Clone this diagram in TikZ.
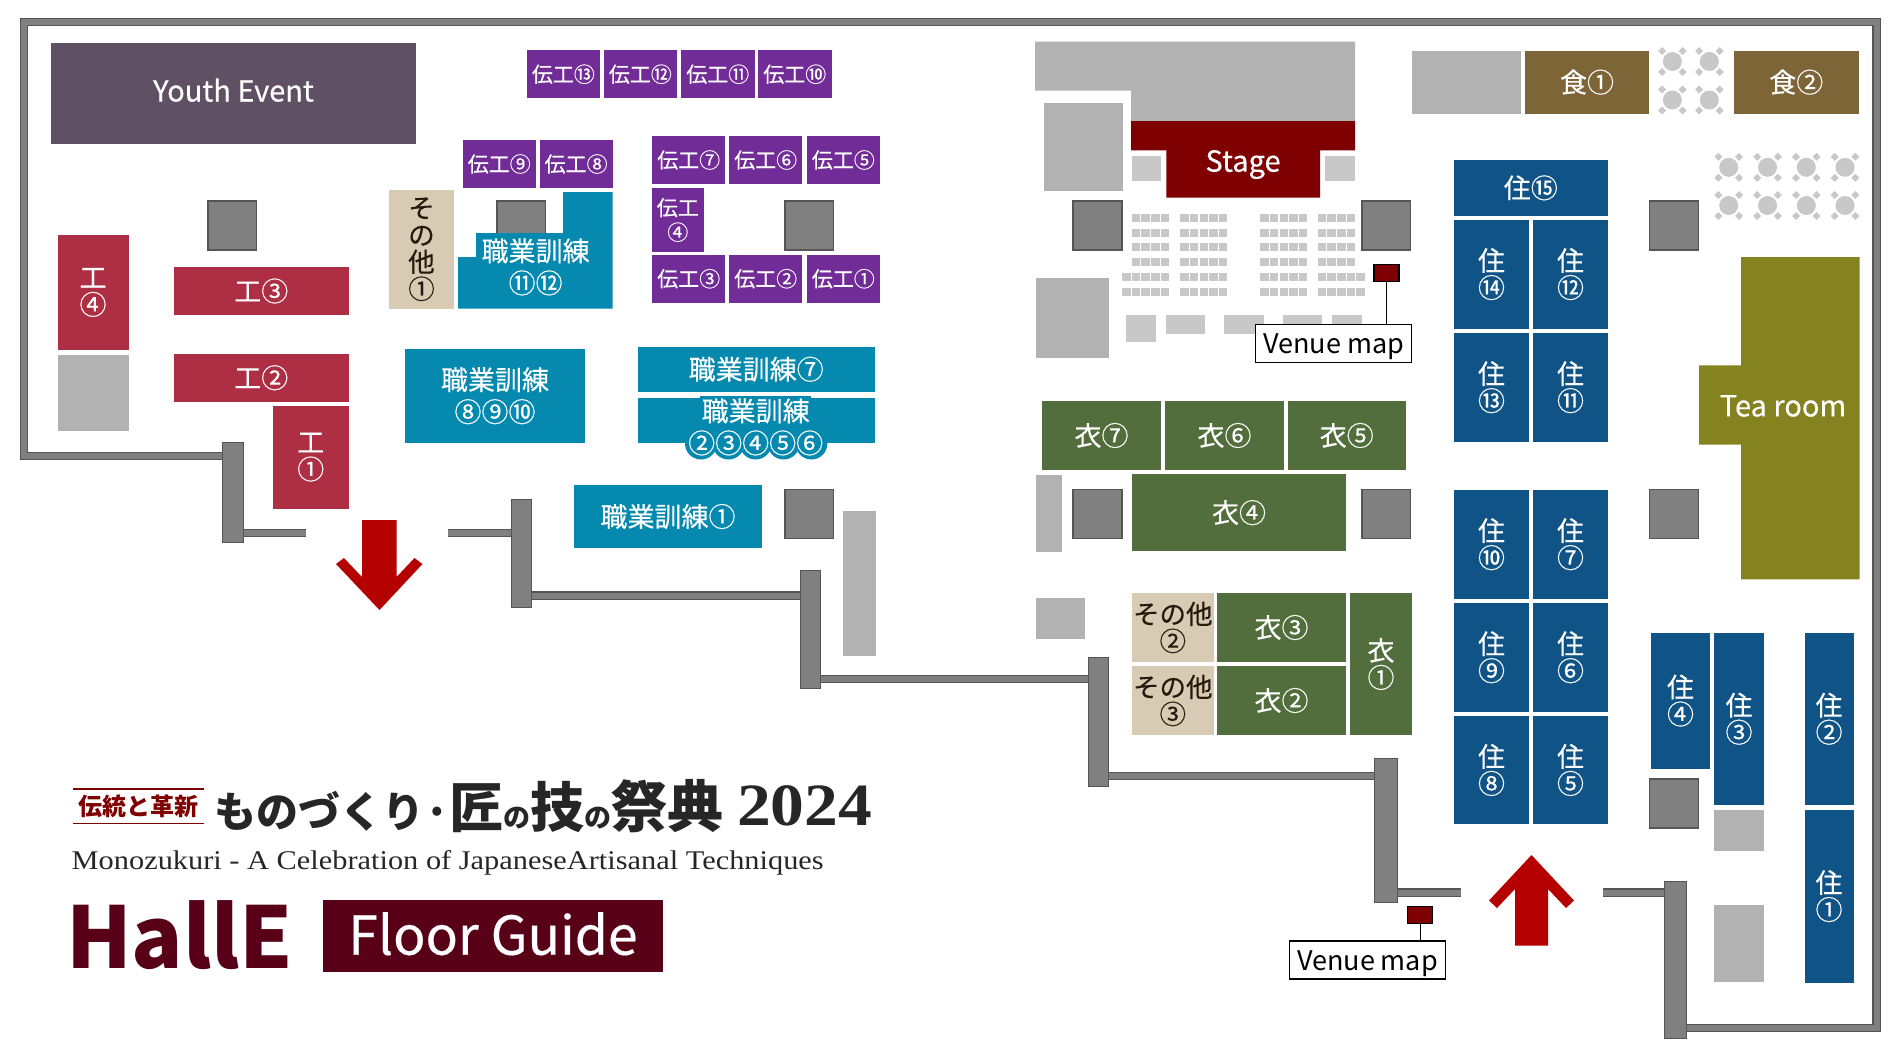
\documentclass[tikz,border=0pt]{standalone}
\usepackage{fontspec}
\setmainfont{Noto Sans CJK JP}
\newfontfamily\boothfont[FakeBold=0.35]{Noto Sans CJK JP}
\newfontfamily\latinserif[FakeStretch=1.125]{Liberation Serif}
\definecolor{wallfill}{HTML}{808080}
\definecolor{walledge}{HTML}{555555}
\definecolor{hallgray}{HTML}{B2B2B2}
\definecolor{seatgray}{HTML}{C8C8C8}
\definecolor{youthcol}{HTML}{5F5163}
\definecolor{craftcol}{HTML}{722C98}
\definecolor{kohcol}{HTML}{AE2E44}
\definecolor{traincol}{HTML}{0689AF}
\definecolor{livecol}{HTML}{105387}
\definecolor{clothcol}{HTML}{526E3C}
\definecolor{foodcol}{HTML}{7D6537}
\definecolor{teacol}{HTML}{858320}
\definecolor{othercol}{HTML}{D8CBB3}
\definecolor{stagecol}{HTML}{7F0000}
\definecolor{arrowcol}{HTML}{B50000}
\definecolor{hallcol}{HTML}{570017}
\tikzset{
	wallline/.style={draw=wallfill, line width=6pt, preaction={draw=walledge, line width=8.5pt}},
	wallpost/.style={fill=wallfill, draw=walledge, line width=0.8pt},
	pillar/.style={fill=wallfill, draw=walledge, line width=1.5pt},
	booth/.style={inner sep=0pt, align=center, text=white, font=\boothfont\fontsize{27}{27}\selectfont},
	craft/.style={booth, fill=craftcol, font=\boothfont\fontsize{21}{24.5}\selectfont},
	koh/.style={booth, fill=kohcol},
	train/.style={booth, fill=traincol, font=\boothfont\fontsize{27}{32}\selectfont},
	living/.style={booth, fill=livecol},
	cloth/.style={booth, fill=clothcol},
	food/.style={booth, fill=foodcol},
	other/.style={booth, fill=othercol, text=black!80!brown, font=\boothfont\fontsize{26.5}{27}\selectfont},
	youth/.style={booth, fill=youthcol, font=\boothfont\fontsize{29}{29}\selectfont},
	mapmark/.style={fill=stagecol, draw=black, line width=1.2pt, inner sep=0pt, minimum width=25pt, minimum height=17pt},
	maplabel/.style={fill=white, draw=black, line width=1.5pt, inner sep=0pt, minimum width=156pt, minimum height=38pt, font=\fontsize{27}{27}\selectfont}
}
% style, name, left, top, right, bottom, text
\newcommand{\boothat}[7]{\node[#1, minimum width={(#5-#3)*1pt}, minimum height={(#6-#4)*1pt}] (#2) at ({(#3+#5)/2},{(#4+#6)/2}) {#7};}
\begin{document}
\begin{tikzpicture}[x=1pt,y=-1pt]
\useasboundingbox (0,0) rectangle (1900,1057);

% walls
\draw[wallline] (232,456) -- (24,456) -- (24,22) -- (1876.5,22) -- (1876.5,1028) -- (1686,1028);
\foreach \xa/\ya/\xb in {243/533/306, 448/533/511, 531/595.5/800, 820/679/1088, 1108/776/1374, 1397/892.5/1461, 1603/892.5/1664}
	\draw[wallline] (\xa,\ya) -- (\xb,\ya);
\foreach \xa/\ya/\xb/\yb in {222/442/243/542, 511/499/531.5/607.5, 800/570/820/688, 1088/657/1108/786, 1374/758.5/1397/902, 1664/881/1686/1038}
	\draw[wallpost] (\xa,\ya) rectangle (\xb,\yb);

% grey areas
\foreach \xa/\ya/\xb/\yb in {57.6/354.6/128.5/431, 842.5/511/876/656, 1044/103/1123/191, 1036/277.5/1109/358, 1412.4/50.7/1521/113.6, 1036/475/1062/552, 1036/597.6/1085/639, 1714/809.6/1764/851, 1714/905/1764/981.6}
	\fill[hallgray] (\xa,\ya) rectangle (\xb,\yb);
\fill[hallgray] (1035,41.6) -- (1355,41.6) -- (1355,121) -- (1131,121) -- (1131,90.6) -- (1035,90.6) -- cycle;
\foreach \xa/\ya/\xb/\yb in {1132/156/1161/181, 1325/156/1355/181, 1126.4/315/1155.5/342.4, 1166/315/1205/334.3, 1224/315/1264/334.3, 1283/315/1322/334.3, 1332/315/1361.5/334.3}
	\fill[seatgray] (\xa,\ya) rectangle (\xb,\yb);

% seats
\foreach \y in {217.7,232.5,247.4,262.3,277,292} {
	\foreach \x in {1131.8,1141.4,1151,1160.6, 1180.3,1189.9,1199.5,1209.1,1218.7, 1260.3,1269.9,1279.5,1289.1,1298.7, 1317.8,1327.4,1337,1346.6}
		\fill[seatgray] (\x,\y-4) rectangle (\x+8.5,\y+4);
}
\foreach \y in {277,292} {
	\fill[seatgray] (1122.2,\y-4) rectangle (1130.7,\y+4);
	\fill[seatgray] (1356.2,\y-4) rectangle (1364.7,\y+4);
}

% tables
\foreach \x/\y in {1672.4/61.5, 1709.3/61.5, 1672.4/100, 1709.3/100, 1728.7/167.3, 1767.5/167.3, 1806.3/167.3, 1845/167.3, 1728.7/205.5, 1767.5/205.5, 1806.3/205.5, 1845/205.5} {
	\fill[seatgray] (\x,\y) circle (9.5);
	\foreach \dx/\dy in {-10.3/-10.5, 10.3/-10.5, -10.3/10.5, 10.3/10.5}
		\fill[seatgray] (\x+\dx-4,\y+\dy) -- (\x+\dx,\y+\dy-4) -- (\x+\dx+4,\y+\dy) -- (\x+\dx,\y+\dy+4) -- cycle;
}

% pillars
\foreach \x/\y in {207/200, 496/200, 784/200, 784/488.5, 1072.4/200, 1361/200, 1648.8/200, 1072.4/488.5, 1361/488.5, 1648.8/488.5, 1648.8/778}
	\draw[pillar] (\x+0.75,\y+0.75) rectangle (\x+49.5,\y+50);

% text halos of the training booths
\fill[traincol] (458,308.6) -- (612.7,308.6) -- (612.7,192) -- (563,192) -- (563,233) -- (476,233) -- (476,257) -- (458,257) -- cycle;
\foreach \x in {701,728.5,755.6,783.6,811.4}
	\fill[traincol] (\x,443.5) circle (16);
\fill[traincol] (700,395.5) rectangle (811,400);

% booths
\boothat{youth}{youthevent}{51}{43}{416}{144}{\raisebox{-8pt}[0pt][0pt]{Youth Event}}
\boothat{craft}{craft13}{526.7}{50.4}{600}{98}{伝工⑬}
\boothat{craft}{craft12}{603.6}{50.4}{677}{98}{伝工⑫}
\boothat{craft}{craft11}{681}{50.4}{754.5}{98}{伝工⑪}
\boothat{craft}{craft10}{758}{50.4}{831.5}{98}{伝工⑩}
\boothat{craft}{craft9}{462.5}{140}{536}{188}{伝工⑨}
\boothat{craft}{craft8}{539.5}{140}{612.7}{188}{伝工⑧}
\boothat{craft}{craft7}{652}{136}{725.4}{184}{伝工⑦}
\boothat{craft}{craft6}{729}{136}{802.4}{184}{伝工⑥}
\boothat{craft}{craft5}{806.6}{136}{880}{184}{伝工⑤}
\boothat{craft}{craft4}{652}{188}{703.6}{252}{伝工\\④}
\boothat{craft}{craft3}{652}{255}{725.4}{302.5}{伝工③}
\boothat{craft}{craft2}{729}{255}{802.4}{302.5}{伝工②}
\boothat{craft}{craft1}{806.6}{255}{880}{302.5}{伝工①}

\boothat{koh}{koh4}{57.6}{235}{128.5}{350}{工\\④}
\boothat{koh}{koh3}{174}{267}{348.5}{315}{工③}
\boothat{koh}{koh2}{174}{354}{348.5}{401.5}{工②}
\boothat{koh}{koh1}{273}{405.6}{348.5}{508.7}{工\\①}

\boothat{other}{other1}{389}{190}{454}{308.6}{そ\\の\\他\\①}
\boothat{other}{other2}{1132}{593}{1213.6}{662}{その他\\②}
\boothat{other}{other3}{1132}{666}{1213.6}{735}{その他\\③}

\boothat{train}{train8}{405}{348.5}{585}{443}{職業訓練\\⑧⑨⑩}
\boothat{train}{train7}{637.5}{346.5}{875}{392}{職業訓練⑦}
\boothat{train}{train2}{637.5}{398}{875}{443}{}
\boothat{train}{train1}{574}{485}{762}{548}{職業訓練①}
\node[train, fill=none] (train11) at (535.6,267) {職業訓練\\⑪⑫};
\node[train, fill=none] (train2txt) at (755.7,427) {職業訓練\\②③④⑤⑥};

\boothat{cloth}{cloth7}{1042}{401}{1161}{470}{衣⑦}
\boothat{cloth}{cloth6}{1165}{401}{1284}{470}{衣⑥}
\boothat{cloth}{cloth5}{1287.5}{401}{1406}{470}{衣⑤}
\boothat{cloth}{cloth4}{1132}{474}{1346}{551.3}{衣④}
\boothat{cloth}{cloth3}{1217}{593}{1346}{662}{衣③}
\boothat{cloth}{cloth2}{1217}{666}{1346}{735}{衣②}
\boothat{cloth}{cloth1}{1350}{593}{1412}{735}{衣\\①}

\boothat{food}{food1}{1525}{50.7}{1649}{113.6}{食①}
\boothat{food}{food2}{1734}{50.7}{1858.5}{113.6}{食②}

\boothat{living}{live15}{1453.6}{160}{1608}{215.7}{住⑮}
\boothat{living}{live14}{1453.6}{219.7}{1529.4}{328.5}{住\\⑭}
\boothat{living}{live12}{1533}{219.7}{1608}{328.5}{住\\⑫}
\boothat{living}{live13}{1453.6}{332.6}{1529.4}{441.8}{住\\⑬}
\boothat{living}{live11}{1533}{332.6}{1608}{441.8}{住\\⑪}
\boothat{living}{live10}{1453.6}{489.8}{1529.4}{598.6}{住\\⑩}
\boothat{living}{live7}{1533}{489.8}{1608}{598.6}{住\\⑦}
\boothat{living}{live9}{1453.6}{603}{1529.4}{711.5}{住\\⑨}
\boothat{living}{live6}{1533}{603}{1608}{711.5}{住\\⑥}
\boothat{living}{live8}{1453.6}{715.6}{1529.4}{824.4}{住\\⑧}
\boothat{living}{live5}{1533}{715.6}{1608}{824.4}{住\\⑤}
\boothat{living}{live4}{1651}{632.5}{1710}{768.7}{住\\④}
\boothat{living}{live3}{1714}{632.5}{1764}{805}{住\\③}
\boothat{living}{live2}{1804.5}{632.5}{1853.6}{805}{住\\②}
\boothat{living}{live1}{1804.5}{809.6}{1853.6}{982.6}{住\\①}

% stage and tea room
\fill[stagecol] (1131,121) -- (1355,121) -- (1355,150.4) -- (1320,150.4) -- (1320,197.7) -- (1166.3,197.7) -- (1166.3,150.4) -- (1131,150.4) -- cycle;
\node[booth, font=\boothfont\fontsize{29}{29}\selectfont] (stage) at (1243,164.5) {Stage};
\fill[teacol] (1741,257) -- (1859.6,257) -- (1859.6,579.4) -- (1741,579.4) -- (1741,444.5) -- (1699,444.5) -- (1699,365.4) -- (1741,365.4) -- cycle;
\node[booth, font=\boothfont\fontsize{29}{29}\selectfont] (tearoom) at (1783,406) {Tea room};

% venue maps
\node[mapmark] (mark1) at (1386.5,272.8) {};
\node[maplabel] (map1) at (1333.7,343.6) {\raisebox{-10pt}[0pt][0pt]{Venue map}};
\draw[black, line width=1.2pt] (mark1.south) -- (mark1.south |- map1.north);
\node[mapmark] (mark2) at (1420.2,915.3) {};
\node[maplabel] (map2) at (1367.5,960) {\raisebox{-10pt}[0pt][0pt]{Venue map}};
\draw[black, line width=1.2pt] (mark2.south) -- (mark2.south |- map2.north);

% entrance arrows
\fill[arrowcol] (362,520) -- (396.5,520) -- (396.5,577) -- (414.5,558) -- (422.5,564) -- (379.5,610) -- (336,564) -- (344,558) -- (362,577) -- cycle;
\fill[arrowcol] (1515,945.5) -- (1548,945.5) -- (1548,889) -- (1566,908) -- (1574,900.5) -- (1531.5,855) -- (1489,900.5) -- (1497,908) -- (1515,889) -- cycle;

% title block
\draw[stagecol, line width=1.5pt] (72.7,789) -- (204,789) (72.7,823.5) -- (204,823.5);
\node[text=stagecol, font=\fontsize{24}{24}\selectfont\bfseries, inner sep=0pt] (tagline) at (138.3,806) {伝統と革新};
\node[anchor=west, inner sep=0pt, text=black!85, font=\bfseries] (maintitle) at (214,806) {\fontsize{42}{42}\selectfont ものづくり·\fontsize{54}{54}\selectfont 匠\fontsize{27}{27}\selectfont の\fontsize{54}{54}\selectfont 技\fontsize{27}{27}\selectfont の\fontsize{56}{56}\selectfont 祭典};
\node[anchor=west, inner sep=0pt, text=black!85, font=\latinserif\bfseries\fontsize{60}{60}\selectfont] (titleyear) at (737,806) {2024};
\node[anchor=west, inner sep=0pt, text=black!85, font=\latinserif\fontsize{27}{27}\selectfont] (subtitle) at (71.5,862.5) {Monozukuri - A Celebration of JapaneseArtisanal Techniques};
\node[anchor=base west, inner sep=0pt, text=hallcol, font=\bfseries\fontsize{85}{85}\selectfont] (hallname) at (66,968.5) {HallE};
\node[inner sep=0pt, fill=hallcol, text=white, minimum width=340pt, minimum height=72.5pt, font=\boothfont\fontsize{53.5}{53.5}\selectfont] (floorguide) at (493,936.2) {\raisebox{-18.5pt}[0pt][0pt]{Floor Guide}};

\end{tikzpicture}
\end{document}
